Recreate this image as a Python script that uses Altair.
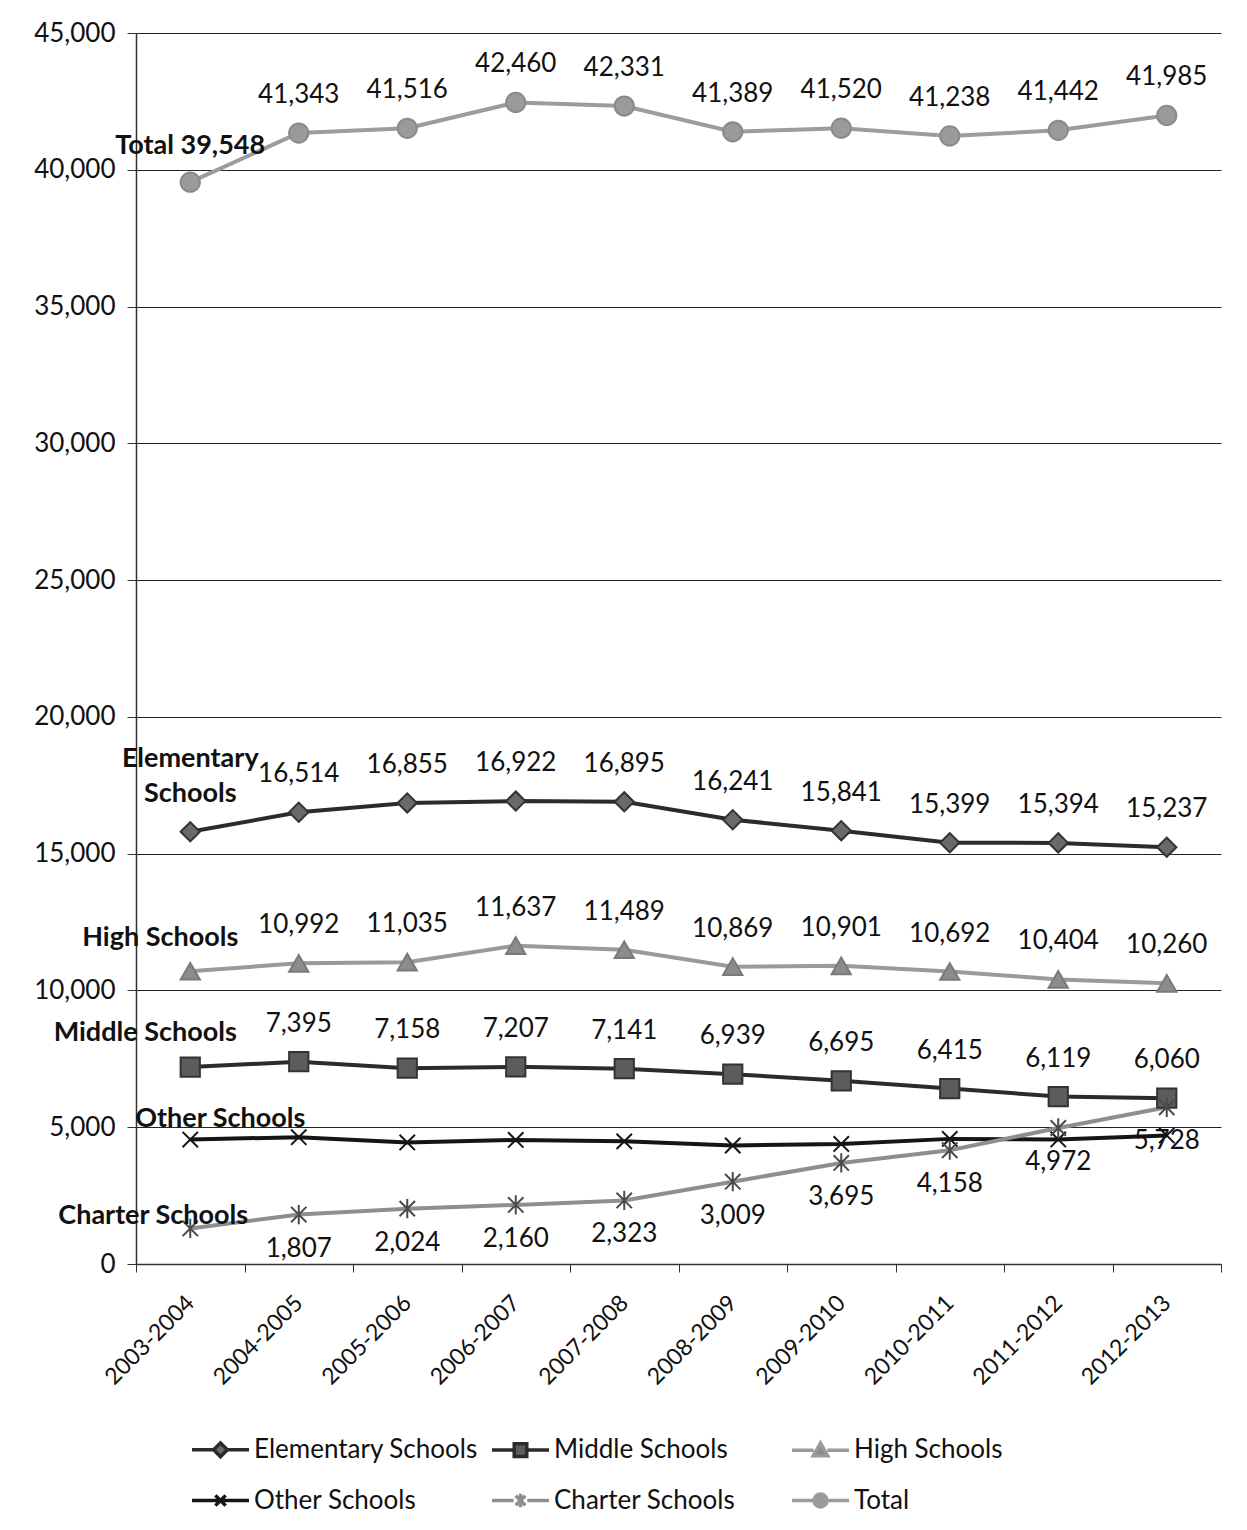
import altair as alt
import pandas as pd

years = ["2003-2004", "2004-2005", "2005-2006", "2006-2007", "2007-2008",
         "2008-2009", "2009-2010", "2010-2011", "2011-2012", "2012-2013"]
elementary = [15800, 16514, 16855, 16922, 16895, 16241, 15841, 15399, 15394, 15237]
middle = [7200, 7395, 7158, 7207, 7141, 6939, 6695, 6415, 6119, 6060]
high = [10700, 10992, 11035, 11637, 11489, 10869, 10901, 10692, 10404, 10260]
other = [4550, 4635, 4444, 4534, 4483, 4331, 4388, 4574, 4553, 4700]
charter = [1300, 1807, 2024, 2160, 2323, 3009, 3695, 4158, 4972, 5728]
total = [39548, 41343, 41516, 42460, 42331, 41389, 41520, 41238, 41442, 41985]

series_names = ["Elementary Schools", "Middle Schools", "High Schools",
                "Other Schools", "Charter Schools", "Total"]
series_values = [elementary, middle, high, other, charter, total]
y_ticks = [0, 5000, 10000, 15000, 20000, 25000, 30000, 35000, 40000, 45000]

rows = []
for name, vals in zip(series_names, series_values):
    for yr, v in zip(years, vals):
        rows.append({"series": name, "year": yr, "value": v})
df = pd.DataFrame(rows)

FONT = "Lato"
TXT = "#111111"

line_colors = ["#2b2b2b", "#2b2b2b", "#9a9a9a", "#151515", "#8e8e8e", "#9c9c9c"]
fill_colors = ["#6a6a6a", "#5c5c5c", "#8c8c8c", "#151515", "#555555", "#9a9a9a"]
stroke_colors = ["#333333", "#333333", "#7a7a7a", "#151515", "#4a4a4a", "#8a8a8a"]

X_PATH = "M-0.8,-0.8L0.8,0.8M-0.8,0.8L0.8,-0.8"
AST_PATH = "M-0.8,-0.8L0.8,0.8M-0.8,0.8L0.8,-0.8M0,-1L0,1"
plot_shapes = ["diamond", "square", "triangle-up", X_PATH, AST_PATH, "circle"]

# legend symbols: a short line with the marker in its middle
SEG = "M-1,0L-0.24,0M0.24,0L1,0"
legend_shapes = [
    SEG + "M0,-0.24L0.24,0L0,0.24L-0.24,0Z",
    SEG + "M-0.22,-0.22L0.22,-0.22L0.22,0.22L-0.22,0.22Z",
    SEG + "M0,-0.25L0.25,0.19L-0.25,0.19Z",
    "M-1,0L1,0M-0.18,-0.18L0.18,0.18M-0.18,0.18L0.18,-0.18",
    SEG + "M-0.17,-0.17L0.17,0.17M-0.17,0.17L0.17,-0.17M0,-0.24L0,0.24",
    SEG + "M-0.23,0A0.23,0.23,0,1,1,0.23,0A0.23,0.23,0,1,1,-0.23,0Z",
]

x_enc = alt.X("year:N", sort=years, title=None,
              scale=alt.Scale(type="band", paddingInner=0, paddingOuter=0),
              axis=alt.Axis(labelAngle=-45, labelAlign="right", labelBaseline="middle",
                            tickBand="extent", tickSize=8, labelPadding=27,
                            labelFont=FONT, labelFontSize=23, labelColor=TXT,
                            domainColor="#333333", domainWidth=1.5, tickColor="#333333",
                            grid=False))
y_enc = alt.Y("value:Q", title=None,
              scale=alt.Scale(domain=[0, 45000], nice=False),
              axis=alt.Axis(values=y_ticks, format=",d",
                            labelFont=FONT, labelFontSize=26, labelColor=TXT,
                            tickSize=9, labelPadding=12, tickColor="#333333",
                            domainColor="#333333", domainWidth=1.5,
                            gridColor="#222222", gridWidth=1.1))

base = alt.Chart(df).encode(x=x_enc, y=y_enc)

lines = base.mark_line(strokeWidth=4).encode(
    color=alt.Color("series:N", scale=alt.Scale(domain=series_names, range=line_colors),
                    legend=None),
    detail="series:N",
)

points = base.mark_point(filled=True, size=370, strokeWidth=2, opacity=1).encode(
    shape=alt.Shape("series:N", scale=alt.Scale(domain=series_names, range=plot_shapes),
                    legend=None),
    fill=alt.Fill("series:N", scale=alt.Scale(domain=series_names, range=fill_colors),
                  legend=None),
    stroke=alt.Stroke("series:N", scale=alt.Scale(domain=series_names, range=stroke_colors),
                      legend=None),
)

leg = alt.Legend(title=None, orient="none", legendX=54, legendY=1386, columns=3,
                 direction="horizontal", gridAlign="all", columnPadding=7, rowPadding=6,
                 labelFont=FONT, labelFontSize=26, labelColor=TXT, labelOffset=3,
                 labelLimit=600, symbolSize=3249, symbolStrokeWidth=3.5, symbolOpacity=1)

legend_layer = base.mark_point(filled=True, opacity=1).encode(
    shape=alt.Shape("series:N", scale=alt.Scale(domain=series_names, range=legend_shapes),
                    legend=leg),
    fill=alt.Fill("series:N", scale=alt.Scale(domain=series_names, range=fill_colors),
                  legend=leg),
    stroke=alt.Stroke("series:N", scale=alt.Scale(domain=series_names, range=line_colors),
                      legend=leg),
).transform_filter("false")

first = years[0]

labels_above = base.mark_text(dy=-38, font=FONT, fontSize=26, color=TXT).encode(
    text=alt.Text("value:Q", format=",d")
).transform_filter(
    alt.FieldOneOfPredicate(field="series",
                            oneOf=["Elementary Schools", "Middle Schools", "High Schools", "Total"])
).transform_filter(alt.datum.year != first)

labels_below = base.mark_text(dy=34, font=FONT, fontSize=26, color=TXT).encode(
    text=alt.Text("value:Q", format=",d")
).transform_filter(alt.datum.series == "Charter Schools").transform_filter(
    alt.datum.year != first)


def name_label(series, text, dx, dy, **kw):
    return base.mark_text(dx=dx, dy=dy, font=FONT, fontSize=27, fontWeight="bold",
                          color=TXT, **kw).encode(
        text=alt.value(text)
    ).transform_filter(alt.datum.series == series).transform_filter(
        alt.datum.year == first)


total_label = base.mark_text(dy=-36, font=FONT, fontSize=27, fontWeight="bold",
                             color=TXT).encode(
    text="lab:N"
).transform_filter(alt.datum.series == "Total").transform_filter(
    alt.datum.year == first).transform_calculate(lab="'Total ' + format(datum.value, ',d')")

names = [
    total_label,
    name_label("Elementary Schools", "Elementary\nSchools", 0, -73, lineBreak="\n", lineHeight=35),
    name_label("High Schools", "High Schools", -30, -33),
    name_label("Middle Schools", "Middle Schools", -45, -34),
    name_label("Other Schools", "Other Schools", 30, -21),
    name_label("Charter Schools", "Charter Schools", -37, -12),
]

chart = alt.layer(
    lines, points, legend_layer, labels_above, labels_below, *names
).resolve_scale(
    shape="independent", fill="independent", stroke="independent"
).properties(
    width=1085, height=1231,
    padding={"left": 25, "top": 12, "right": 10, "bottom": 0},
    background="white",
).configure_view(strokeWidth=0)

chart.save("out.html", embed_options={"renderer": "svg", "actions": False})
